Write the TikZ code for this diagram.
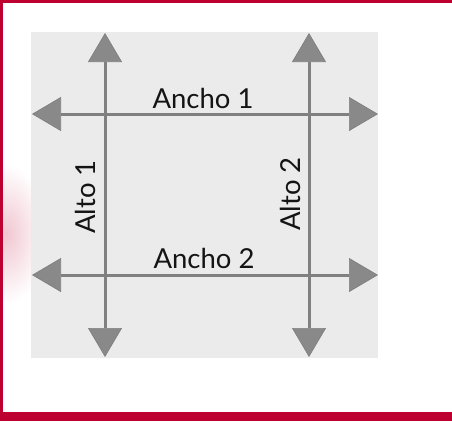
\documentclass[tikz,border=0pt]{standalone}
\usepackage{fontspec}
\setmainfont{Lato}
\usetikzlibrary{arrows.meta}
\definecolor{frame}{RGB}{190,0,48}
\definecolor{panel}{RGB}{235,235,235}
\definecolor{lineg}{RGB}{128,128,128}
\definecolor{tipg}{RGB}{137,137,137}
\tikzset{
  dimarrow/.style={draw=lineg, line width=3pt,
    {Triangle[length=29pt,width=34pt,fill=tipg,line width=0.7pt]}-{Triangle[length=29pt,width=34pt,fill=tipg,line width=0.7pt]}},
  dimlabel/.style={font=\fontsize{27.5}{27.5}\selectfont, text=black!92, inner sep=0pt, anchor=base},
}
\begin{document}
\begin{tikzpicture}[x=1pt,y=-1pt]
\useasboundingbox (0,0) rectangle (452,421);
\fill[white] (0,0) rectangle (452,421);
% soft glow at left
\shade[inner color=frame!22, outer color=white] (6,234) ellipse [x radius=40, y radius=70];
% frame
\fill[frame] (0,0) rectangle (452,3);
\fill[frame] (0,0) rectangle (3,421);
\fill[frame] (0,412) rectangle (452,421);
% panel
\fill[panel] (31,32) rectangle (378,358);
% end points
\coordinate (v1t) at (105,33);
\coordinate (v1b) at (105,357);
\coordinate (v2t) at (309,33);
\coordinate (v2b) at (309,357);
\coordinate (h1l) at (32,114);
\coordinate (h1r) at (378,114);
\coordinate (h2l) at (32,275);
\coordinate (h2r) at (378,275);
\draw[dimarrow] (v1b) -- (v1t);
\draw[dimarrow] (v2b) -- (v2t);
\draw[dimarrow] (h1l) -- (h1r);
\draw[dimarrow] (h2l) -- (h2r);
\node[dimlabel] (a1) at (203,108) {Ancho 1};
\node[dimlabel] (a2) at (204,268) {Ancho 2};
\node[dimlabel, rotate=90] (l1) at (95,197) {Alto 1};
\node[dimlabel, rotate=90] (l2) at (300,194) {Alto 2};
\end{tikzpicture}
\end{document}
